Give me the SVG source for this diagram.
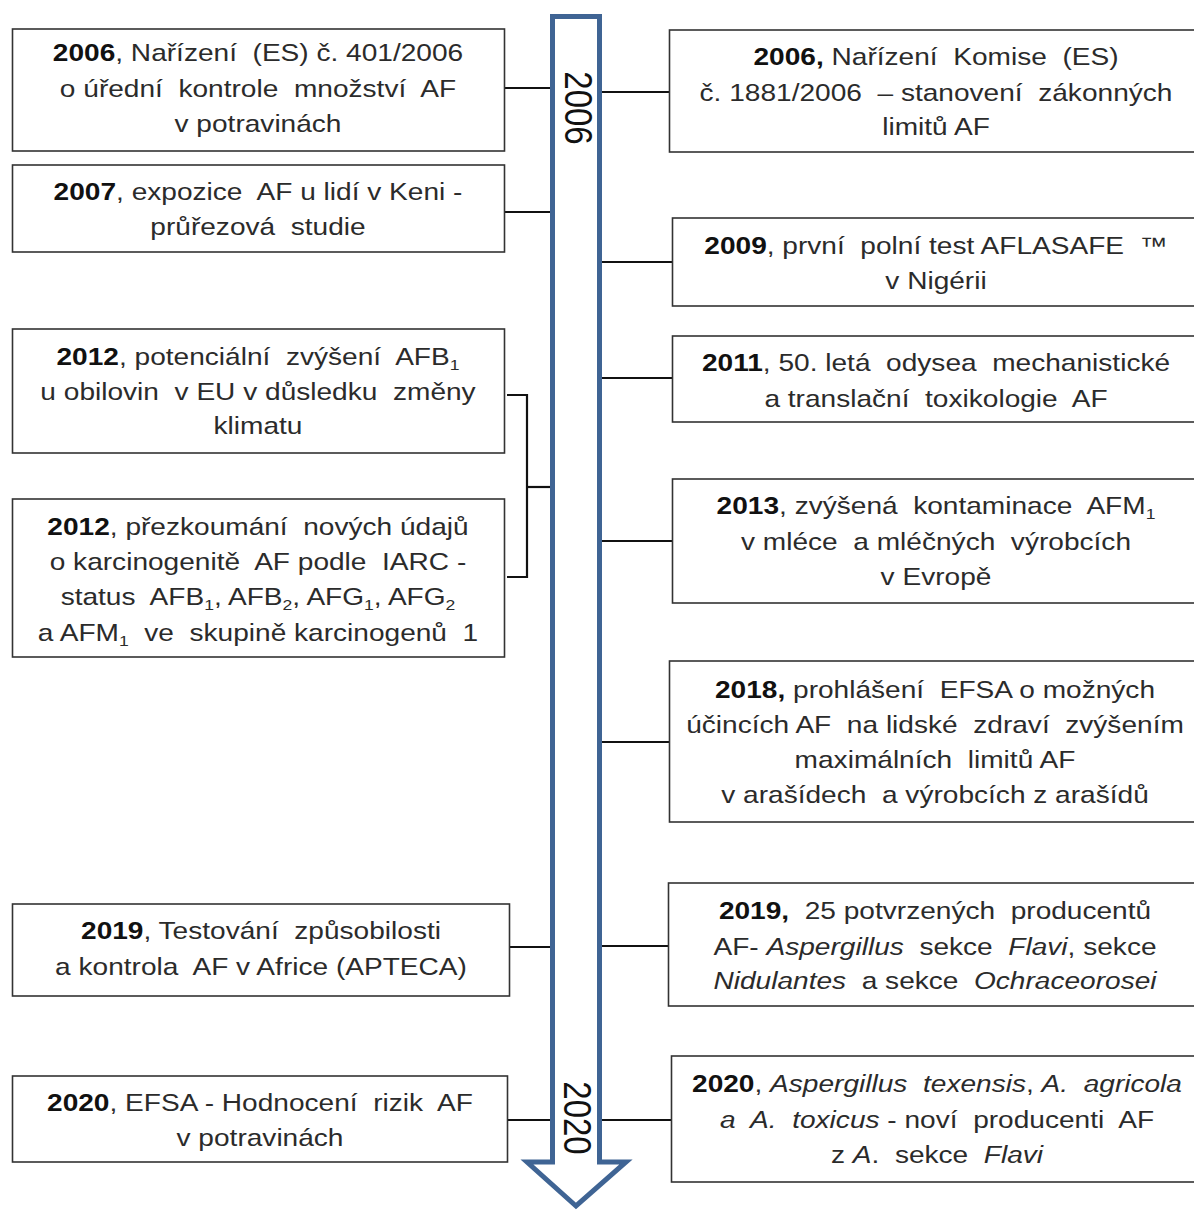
<svg xmlns="http://www.w3.org/2000/svg" width="1194" height="1210" viewBox="0 0 1194 1210">
<style>
.box{fill:#fff;stroke:#333;stroke-width:1.6}
.t{font-family:"Liberation Sans",Arial,sans-serif;font-size:24px;fill:#2b2b2b;text-anchor:middle;white-space:pre}
.b{font-weight:bold;fill:#111}
.i{font-style:italic}
.s{font-size:15px}
.yr{font-family:"Liberation Sans",Arial,sans-serif;font-size:33px;fill:#111;text-anchor:middle}
.c{stroke:#111;stroke-width:2.2;fill:none}
</style>
<rect width="1194" height="1210" fill="#fff"/>
<g id="connectors">
<line class="c" x1="504" y1="88" x2="553" y2="88"/>
<line class="c" x1="504" y1="212" x2="553" y2="212"/>
<polyline class="c" points="507,395 527,395 527,577 507,577" stroke-width="3"/>
<line class="c" x1="527" y1="487" x2="553" y2="487"/>
<line class="c" x1="509" y1="947" x2="553" y2="947"/>
<line class="c" x1="507" y1="1120" x2="553" y2="1120"/>
<line class="c" x1="599" y1="92" x2="669" y2="92"/>
<line class="c" x1="599" y1="262" x2="672" y2="262"/>
<line class="c" x1="599" y1="378" x2="672" y2="378"/>
<line class="c" x1="599" y1="541" x2="672" y2="541"/>
<line class="c" x1="599" y1="742" x2="669" y2="742"/>
<line class="c" x1="599" y1="946" x2="668" y2="946"/>
<line class="c" x1="599" y1="1120" x2="671" y2="1120"/>
</g>
<g id="timeline">
<path d="M552.5,16.5 H599.5 V1162 H626 L576,1206 L527,1162 H552.5 Z" fill="none" stroke="#3f6494" stroke-width="5"/>
<text class="yr" transform="translate(578,108) scale(1.15,1) rotate(90)" y="11.5">2006</text>
<text class="yr" transform="translate(577,1118) scale(1.15,1) rotate(90)" y="11.5">2020</text>
</g>
<g id="n-l2006">
<rect class="box" x="12.5" y="29" width="492" height="122"/>
<g transform="translate(258,0) scale(1.17,1)">
<text class="t" y="61"><tspan class="b">2006</tspan>, Nařízení  (ES) č. 401/2006</text>
<text class="t" y="97">o úřední  kontrole  množství  AF</text>
<text class="t" y="132">v potravinách</text>
</g>
</g>
<g id="n-l2007">
<rect class="box" x="12.5" y="165" width="492" height="87"/>
<g transform="translate(258,0) scale(1.17,1)">
<text class="t" y="200"><tspan class="b">2007</tspan>, expozice  AF u lidí v Keni -</text>
<text class="t" y="235">průřezová  studie</text>
</g>
</g>
<g id="n-l2012a">
<rect class="box" x="12.5" y="329" width="492" height="124"/>
<g transform="translate(258,0) scale(1.17,1)">
<text class="t" y="365"><tspan class="b">2012</tspan>, potenciální  zvýšení  AFB<tspan class="s" dy="5">1</tspan></text>
<text class="t" y="400">u obilovin  v EU v důsledku  změny</text>
<text class="t" y="434">klimatu</text>
</g>
</g>
<g id="n-l2012b">
<rect class="box" x="12.5" y="499" width="492" height="158"/>
<g transform="translate(258,0) scale(1.17,1)">
<text class="t" y="535"><tspan class="b">2012</tspan>, přezkoumání  nových údajů</text>
<text class="t" y="570">o karcinogenitě  AF podle  IARC -</text>
<text class="t" y="605">status  AFB<tspan class="s" dy="5">1</tspan><tspan dy="-5">, AFB</tspan><tspan class="s" dy="5">2</tspan><tspan dy="-5">, AFG</tspan><tspan class="s" dy="5">1</tspan><tspan dy="-5">, AFG</tspan><tspan class="s" dy="5">2</tspan></text>
<text class="t" y="641">a AFM<tspan class="s" dy="5">1</tspan><tspan dy="-5">  ve  skupině karcinogenů  1</tspan></text>
</g>
</g>
<g id="n-l2019">
<rect class="box" x="12.5" y="904" width="497" height="92"/>
<g transform="translate(261,0) scale(1.17,1)">
<text class="t" y="939"><tspan class="b">2019</tspan>, Testování  způsobilosti</text>
<text class="t" y="975">a kontrola  AF v Africe (APTECA)</text>
</g>
</g>
<g id="n-l2020">
<rect class="box" x="12.5" y="1076" width="495" height="86"/>
<g transform="translate(260,0) scale(1.17,1)">
<text class="t" y="1111"><tspan class="b">2020</tspan>, EFSA - Hodnocení  rizik  AF</text>
<text class="t" y="1146">v potravinách</text>
</g>
</g>
<g id="n-r2006">
<rect class="box" x="669.5" y="30" width="540" height="122"/>
<g transform="translate(936,0) scale(1.17,1)">
<text class="t" y="65"><tspan class="b">2006,</tspan> Nařízení  Komise  (ES)</text>
<text class="t" y="101">č. 1881/2006  – stanovení  zákonných</text>
<text class="t" y="135">limitů AF</text>
</g>
</g>
<g id="n-r2009">
<rect class="box" x="672.5" y="218" width="540" height="88"/>
<g transform="translate(936,0) scale(1.17,1)">
<text class="t" y="254"><tspan class="b">2009</tspan>, první  polní test AFLASAFE  ™</text>
<text class="t" y="289">v Nigérii</text>
</g>
</g>
<g id="n-r2011">
<rect class="box" x="672.5" y="336" width="540" height="86"/>
<g transform="translate(936,0) scale(1.17,1)">
<text class="t" y="371"><tspan class="b">2011</tspan>, 50. letá  odysea  mechanistické</text>
<text class="t" y="407">a translační  toxikologie  AF</text>
</g>
</g>
<g id="n-r2013">
<rect class="box" x="672.5" y="479" width="540" height="124"/>
<g transform="translate(936,0) scale(1.17,1)">
<text class="t" y="514"><tspan class="b">2013</tspan>, zvýšená  kontaminace  AFM<tspan class="s" dy="5">1</tspan></text>
<text class="t" y="550">v mléce  a mléčných  výrobcích</text>
<text class="t" y="585">v Evropě</text>
</g>
</g>
<g id="n-r2018">
<rect class="box" x="669.5" y="661" width="540" height="161"/>
<g transform="translate(935,0) scale(1.17,1)">
<text class="t" y="698"><tspan class="b">2018,</tspan> prohlášení  EFSA o možných</text>
<text class="t" y="733">účincích AF  na lidské  zdraví  zvýšením</text>
<text class="t" y="768">maximálních  limitů AF</text>
<text class="t" y="803">v arašídech  a výrobcích z arašídů</text>
</g>
</g>
<g id="n-r2019">
<rect class="box" x="668.5" y="883" width="540" height="123"/>
<g transform="translate(935,0) scale(1.17,1)">
<text class="t" y="919"><tspan class="b">2019,</tspan>  25 potvrzených  producentů</text>
<text class="t" y="955">AF- <tspan class="i">Aspergillus</tspan>  sekce  <tspan class="i">Flavi</tspan>, sekce</text>
<text class="t" y="989"><tspan class="i">Nidulantes</tspan>  a sekce  <tspan class="i">Ochraceorosei</tspan></text>
</g>
</g>
<g id="n-r2020">
<rect class="box" x="671.5" y="1056" width="540" height="126"/>
<g transform="translate(937,0) scale(1.17,1)">
<text class="t" y="1092"><tspan class="b">2020</tspan>, <tspan class="i">Aspergillus  texensis</tspan>, <tspan class="i">A.  agricola</tspan></text>
<text class="t" y="1128"><tspan class="i">a  A.  toxicus</tspan> - noví  producenti  AF</text>
<text class="t" y="1163">z <tspan class="i">A</tspan>.  sekce  <tspan class="i">Flavi</tspan></text>
</g>
</g>
</svg>
